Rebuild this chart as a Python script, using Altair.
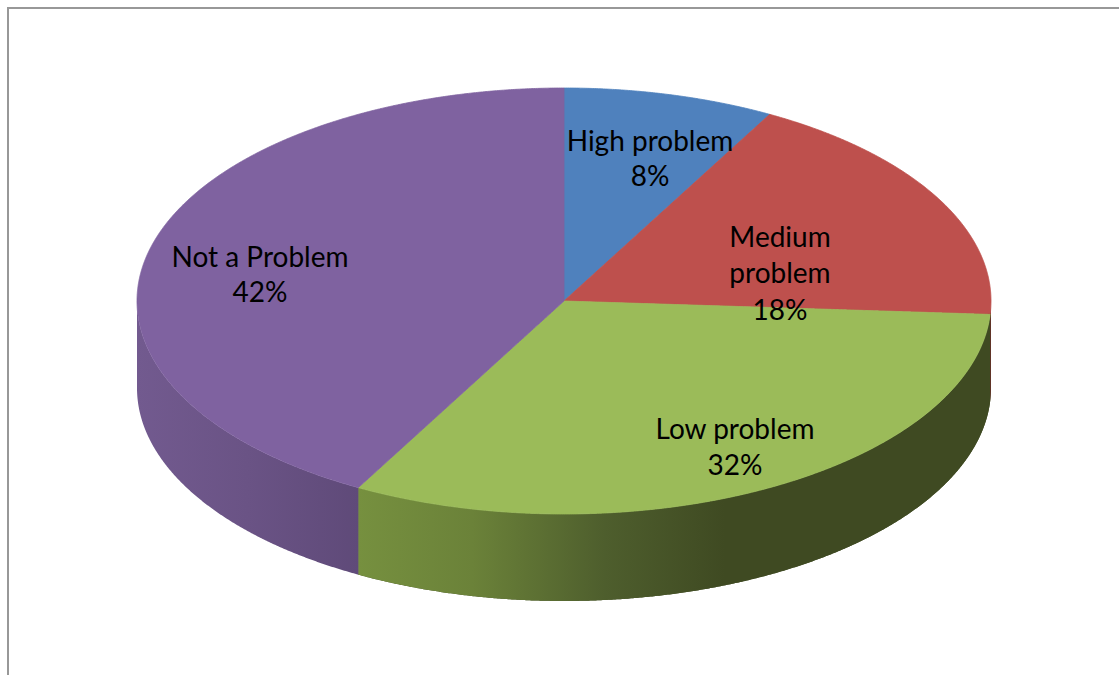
import altair as alt
import numpy as np
import pandas as pd

# Survey answers and their shares, clockwise from twelve o'clock
CATEGORIES = ["High problem", "Medium problem", "Low problem", "Not a Problem"]
SHARES = [8, 18, 32, 42]
TOP_COLORS = ["#4f81bd", "#be504d", "#9bbb59", "#7f62a0"]

# Pie geometry, in pixels on the 1119x675 canvas
WIDTH, HEIGHT = 1119, 675
CX, CY, RX, RY, DEPTH = 564, 301, 427, 213, 87


def boundaries():
    return np.radians(np.cumsum([0] + SHARES) * 3.6)


def wedge_band(a0, a1):
    """Upper and lower edge of a convex pie wedge as x, y, y2 in unit-circle space."""
    arc = np.linspace(a0, a1, max(int((a1 - a0) * 240), 4))
    px = np.concatenate([[0.0], np.sin(arc)])
    py = np.concatenate([[0.0], np.cos(arc)])
    rows = []
    for x0 in np.unique(np.round(px, 6)):
        hits = []
        for i in range(len(px)):
            xa, ya, xb, yb = px[i], py[i], px[(i + 1) % len(px)], py[(i + 1) % len(px)]
            lo, hi = min(xa, xb) - 1e-6, max(xa, xb) + 1e-6
            if lo <= x0 <= hi:
                if abs(xb - xa) < 1e-9:
                    hits += [ya, yb]
                else:
                    hits.append(ya + (yb - ya) * (x0 - xa) / (xb - xa))
        rows.append((x0, min(hits), max(hits)))
    return pd.DataFrame(rows, columns=["x", "y", "y2"])


def side_band(a0, a1):
    """Visible rim of a wedge: only the part on the front half of the ellipse."""
    a0, a1 = max(a0, np.pi / 2), min(a1, 3 * np.pi / 2)
    arc = np.linspace(a0, a1, max(int((a1 - a0) * 240), 6))
    return pd.DataFrame(
        {"x": np.sin(arc), "y": np.cos(arc), "y2": np.cos(arc) - DEPTH / RY}
    )


x_scale = alt.Scale(domain=[(0 - CX) / RX, (WIDTH - CX) / RX], nice=False, zero=False)
y_scale = alt.Scale(domain=[(CY - HEIGHT) / RY, CY / RY], nice=False, zero=False)


def band_layer(frame, paint, **mark_options):
    return (
        alt.Chart(frame)
        .mark_area(color=paint, interpolate="linear", line=False, clip=True, **mark_options)
        .encode(
            x=alt.X("x:Q", scale=x_scale, axis=None),
            y=alt.Y("y:Q", scale=y_scale, axis=None),
            y2="y2:Q",
        )
    )


def shade(stops):
    return alt.LinearGradient(
        gradient="linear",
        x1=0, x2=1, y1=0, y2=0,
        stops=[alt.GradientStop(color=c, offset=o) for o, c in stops],
    )


edges = boundaries()

# Rim of the pie, with the banded shading of the original 3-D effect;
# the dark underlay keeps the joints between rim pieces closed
rim_paints = {
    1: "#6e2b29",
    2: shade([(0, "#76903f"), (0.18, "#6b8239"), (0.39, "#4e5e2d"), (0.58, "#3f4a22"), (1, "#3f4a22")]),
    3: shade([(0, "#725a8f"), (0.5, "#6a5385"), (1, "#5f4a79")]),
}
underlay = band_layer(side_band(np.pi / 2, edges[3]), "#3f4a22")
rims = [band_layer(side_band(edges[i], edges[i + 1]), p) for i, p in rim_paints.items()]

# Flat top face; the hairline stroke closes the seams between wedges
tops = [
    band_layer(
        wedge_band(edges[i], edges[i + 1]),
        TOP_COLORS[i],
        stroke=TOP_COLORS[i],
        strokeWidth=0.8,
    )
    for i in range(len(SHARES))
]

# Data labels, one row per text line
label_lines = pd.DataFrame(
    [
        ("High problem", 650, 143),
        (f"{SHARES[0]}%", 650, 178),
        ("Medium", 780, 239),
        ("problem", 780, 275),
        (f"{SHARES[1]}%", 780, 312),
        ("Low problem", 735, 431),
        (f"{SHARES[2]}%", 735, 467),
        ("Not a Problem", 260, 259),
        (f"{SHARES[3]}%", 260, 294),
    ],
    columns=["text", "px", "py"],
)
labels = (
    alt.Chart(label_lines)
    .mark_text(font="Lato", fontSize=28, color="#000000", align="center", baseline="middle")
    .encode(
        x=alt.X("px:Q", scale=None, axis=None),
        y=alt.Y("py:Q", scale=None, axis=None),
        text="text:N",
    )
)

# Grey frame, top and left edges only
frame_top = alt.Chart().mark_rule(color="#989898", strokeWidth=2).encode(
    x=alt.value(7), x2=alt.value(WIDTH), y=alt.value(8)
)
frame_left = alt.Chart().mark_rule(color="#989898", strokeWidth=2).encode(
    x=alt.value(8), y=alt.value(7), y2=alt.value(HEIGHT)
)

chart = (
    alt.layer(frame_top, frame_left, underlay, *rims, *tops, labels)
    .resolve_scale(x="independent", y="independent")
    .properties(
        width=WIDTH,
        height=HEIGHT,
        padding=0,
        autosize=alt.AutoSizeParams(type="none"),
        background="#ffffff",
    )
    .configure_view(stroke=None)
)

chart.save("out.html", embed_options={"renderer": "svg", "actions": False})
